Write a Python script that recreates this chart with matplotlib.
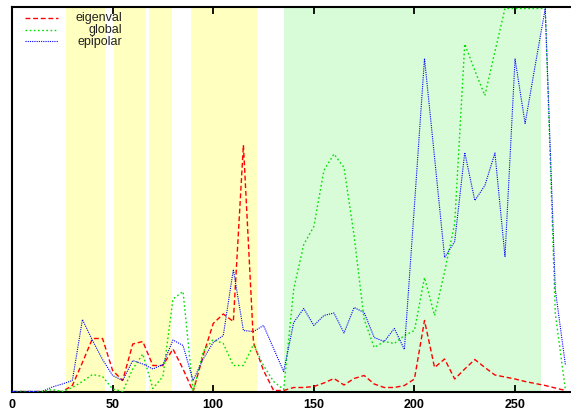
import matplotlib
matplotlib.use("Agg")
import matplotlib.pyplot as plt
import numpy as np

plt.rcParams['font.family'] = ['Liberation Sans', 'DejaVu Sans']

frames = list(range(0, 280, 5))

eigenval = [0, 0, 0, 0, 0, 0, 6, 29, 53, 53, 21, 11, 47.5, 50, 26, 26, 42.5, 22.5, 0, 36,
            68, 77.5, 70, 246.5, 49, 21, 1, 1, 4, 4, 5, 8.5, 13, 6.5, 13, 16, 7.5, 4, 4, 6,
            12.5, 71, 24, 32.5, 12.5, 22.5, 32, 24, 16.5, 14.5, 12.5, 10, 8, 6, 3.5, 1]

global_ = [0, 0, 0, 0, 2, 0, 4, 10, 17, 15, 2.5, 0, 22.5, 37.5, 3, 15, 92.5, 100, 0, 40,
           52, 48, 26, 26, 47, 26, 10, 2, 102.5, 147, 165, 221, 237.5, 224, 156, 72, 44, 50, 48, 56,
           61, 114, 76, 120, 168, 347.5, 321, 296, 340, 383, 383, 383, 383, 383, 78, 2]

epipolar = [0, 0, 0, 0, 4.5, 7.5, 11, 72, 51, 32, 16, 11, 31, 27.5, 22.5, 27, 51.5, 46, 11, 32.5,
            49, 56, 122, 61, 60, 66, 43, 20, 69, 83, 66, 76, 78.5, 58.5, 84, 79, 54, 50, 63, 42,
            186, 333, 234, 134, 150, 239, 191, 206, 238.5, 135, 332.5, 268, 326, 383, 102, 27]

yellow_spans = [(26.8, 46.2), (50.7, 66.4), (68.1, 79.4), (89.0, 121.6)]
green_spans = [(135.0, 262.9)]

xticks = [0, 50, 100, 150, 200, 250]
labels = ["eigenval", "global", "epipolar"]

W, H = 571, 410
fig = plt.figure(figsize=(W / 100, H / 100), dpi=100)
ax = fig.add_axes([11.5 / W, 1 - 392.5 / H, 561.5 / W, 385 / H])

for a, b in yellow_spans:
    ax.axvspan(a, b, color='#ffffc0', lw=0, zorder=0)
for a, b in green_spans:
    ax.axvspan(a, b, color='#d8fcd8', lw=0, zorder=0)

ax.plot(frames, eigenval, color='#ff0000', lw=1.0, ls=(0, (3.5, 2)), zorder=2)
ax.plot(frames, global_, color='#00e000', lw=1.0, ls=(0, (1.2, 1.8)), zorder=3)
ax.plot(frames, epipolar, color='#0000ff', lw=0.8, ls=(0, (1, 1)), zorder=4)

ax.set_xlim(-0.25, 278.8)
ax.set_ylim(0, 385)
ax.set_yticks([])
ax.set_xticks(xticks)
ax.set_xticklabels([str(t) for t in xticks], fontsize=9, fontweight='bold')
ax.tick_params(axis='x', direction='in', length=5, width=1.3, top=True, pad=5)
for s in ax.spines.values():
    s.set_linewidth(1.5)

# gnuplot-style key: sample on the left, right-aligned text
styles = [dict(color='#ff0000', lw=1.0, ls=(0, (3.5, 2))),
          dict(color='#00e000', lw=1.0, ls=(0, (1.2, 1.8))),
          dict(color='#0000ff', lw=0.8, ls=(0, (1, 1)))]
ys = [18.5, 30.5, 42]
for lab, st, yy in zip(labels, styles, ys):
    fy = 1 - yy / H
    fig.add_artist(plt.Line2D([25 / W, 58 / W], [fy, fy], transform=fig.transFigure, **st))
    fig.text(122 / W, fy, lab, ha='right', va='center', fontsize=9, color='#222222')

fig.savefig("out.png", dpi=100)
